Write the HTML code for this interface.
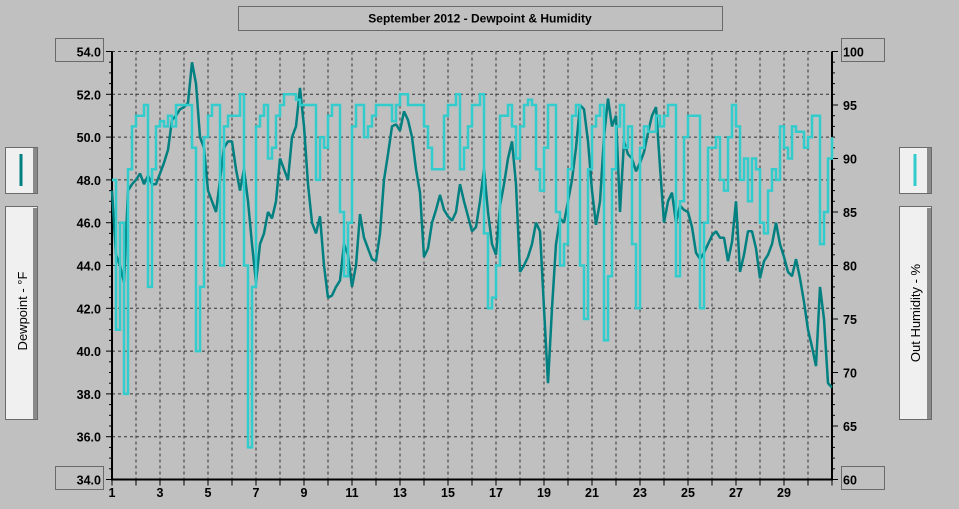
<!DOCTYPE html>
<html><head><meta charset="utf-8"><style>
body{margin:0;background:#c0c0c0;}
svg{display:block;font-family:"Liberation Sans",sans-serif;}
</style></head><body>
<svg id="chart" width="959" height="509" viewBox="0 0 959 509">
<rect x="0" y="0" width="959" height="509" fill="#c0c0c0"/>
<g>
<rect x="238.5" y="6.5" width="484" height="24" fill="none" stroke="#6a6a6a"/>
<text x="480" y="22.5" text-anchor="middle" font-size="12" font-weight="bold">September 2012 - Dewpoint &amp; Humidity</text>
</g>
<g id="grid"></g>
<g id="axes"></g>
<g id="series"></g>
<g><rect x="55.5" y="38.5" width="48" height="23" fill="none" stroke="#6a6a6a"/></g>
<g><rect x="55.5" y="466.5" width="48" height="23" fill="none" stroke="#6a6a6a"/></g>
<g><rect x="841.5" y="38.5" width="43" height="23" fill="none" stroke="#6a6a6a"/></g>
<g><rect x="841.5" y="466.5" width="43" height="23" fill="none" stroke="#6a6a6a"/></g>
<g>
<rect x="5.5" y="147.5" width="32" height="46" fill="#f0f0f0" stroke="#6a6a6a"/>
<rect x="33" y="148" width="4" height="45" fill="#8a8a8a"/>
<line x1="21" y1="154" x2="21" y2="186" stroke="#008080" stroke-width="3"/>
</g>
<g>
<rect x="5.5" y="206.5" width="32" height="213" fill="#f0f0f0" stroke="#6a6a6a"/>
<rect x="33" y="208" width="4" height="211" fill="#8a8a8a"/>
<text transform="translate(27,311) rotate(-90)" text-anchor="middle" font-size="13">Dewpoint - °F</text>
</g>
<g>
<rect x="899.5" y="147.5" width="32" height="46" fill="#f0f0f0" stroke="#6a6a6a"/>
<rect x="927" y="148" width="4" height="45" fill="#8a8a8a"/>
<line x1="915" y1="154" x2="915" y2="186" stroke="#33cccc" stroke-width="3"/>
</g>
<g>
<rect x="899.5" y="206.5" width="32" height="213" fill="#f0f0f0" stroke="#6a6a6a"/>
<rect x="927" y="208" width="4" height="211" fill="#8a8a8a"/>
<text transform="translate(920,313) rotate(-90)" text-anchor="middle" font-size="13">Out Humidity - %</text>
</g>
</svg>
<script>
const dewpoint = [47.5,44.5,44.0,43.2,47.5,47.8,48.0,48.3,47.8,48.2,47.8,47.8,48.3,48.8,49.4,50.8,51.0,51.3,51.4,51.6,53.5,52.5,50.0,49.5,47.5,47.0,46.5,48.0,49.5,49.8,49.8,48.5,47.5,48.5,47.0,45.0,43.2,45.0,45.5,46.5,46.2,47.0,49.0,48.5,48.0,50.0,50.5,52.3,50.5,47.8,46.0,45.5,46.3,44.0,42.5,42.6,43.0,43.3,45.0,44.5,43.0,44.0,46.4,45.3,44.8,44.3,44.2,45.5,48.0,49.2,50.5,50.6,50.3,51.2,50.8,50.0,48.5,47.4,44.4,44.8,46.0,46.6,47.3,46.6,46.3,46.1,46.5,47.8,47.0,46.3,45.6,45.8,47.0,48.5,46.5,45.0,44.5,46.8,47.8,49.0,49.8,47.8,43.7,44.0,44.4,45.0,46.0,45.6,42.0,38.5,42.0,45.0,46.2,46.0,47.0,48.0,49.5,51.5,51.3,49.8,47.5,45.9,47.0,50.0,51.8,50.5,51.0,46.5,49.8,49.2,49.0,48.4,48.8,49.3,50.2,51.0,51.4,48.6,46.0,47.0,47.4,46.0,46.8,46.6,46.5,45.8,44.6,44.3,44.6,45.0,45.4,45.6,45.3,45.3,44.2,45.1,47.0,43.7,44.5,45.6,45.6,44.8,43.4,44.2,44.5,45.0,46.0,45.0,44.4,43.7,43.5,44.3,43.4,42.3,41.0,40.2,39.3,43.0,41.5,38.5,38.3];
const humidity = [88,74,84,68,89,93,94,94,95,78,89,93,93.5,93,94,93,95,95,95,95,91,72,78,92,94,95,95,80,93,94,94,94,96,80,63,78,93,94,95,90,91,94,95,96,96,96,95.5,95,95,95,95,88,92,91,94,95,95,85,79,84,93,95,95,92,93,94,95,95,95,95,93.5,95,96,96,95,95,95,95,93,91,89,89,89,94,95,95,96,89,91,93,95,95,96,83,76,77,80,94,94,95,93,90,93,95,95.5,95,89,87,91,95,95,85,80,82,89,94,95,80,75,89,93,94,95,73,79,89,93,95,91,93,82,76,91,93,92.5,92.5,94,93,94,95,95,79,86,92,94,94,94,76,84,91,91,92,88,87,92,95,93,88,90,86,90,89,84,83,87,89,88,93,91,90,93,92.5,92.5,91,92,94,94,82,85,90,92];
const samplesPerDay = 6;
const dewTicks = ["54.0","52.0","50.0","48.0","46.0","44.0","42.0","40.0","38.0","36.0","34.0"];
const humTicks = ["100","95","90","85","80","75","70","65","60"];
const dayLabels = ["1","3","5","7","9","11","13","15","17","19","21","23","25","27","29"];

const NS="http://www.w3.org/2000/svg";
const X0=112,X1=832,Y0=51.5,Y1=479.5;
const dayMin=1,dayMax=31,dewMin=34,dewMax=54,humMin=60,humMax=100;
function xDay(d){return X0+(d-dayMin)/(dayMax-dayMin)*(X1-X0);}
function yDew(v){return Y1-(v-dewMin)/(dewMax-dewMin)*(Y1-Y0);}
function yHum(v){return Y1-(v-humMin)/(humMax-humMin)*(Y1-Y0);}
function mk(tag,attrs,parent){const e=document.createElementNS(NS,tag);for(const k in attrs)e.setAttribute(k,attrs[k]);parent.appendChild(e);return e;}
const grid=document.getElementById('grid'),axes=document.getElementById('axes'),series=document.getElementById('series');

for(let v=dewMin+2;v<=dewMax;v+=2){
  const l=mk('line',{x1:X0,x2:X1,y1:yDew(v),y2:yDew(v),stroke:'#333','stroke-width':1,'stroke-dasharray':'3,3'},grid);
  
  
}
for(let d=dayMin+1;d<dayMax;d++){
  const l=mk('line',{x1:xDay(d),x2:xDay(d),y1:Y0,y2:Y1,stroke:'#333','stroke-width':1,'stroke-dasharray':'3,3'},grid);
  
  
}
mk('line',{x1:X0,x2:X0,y1:Y0,y2:Y1+1,stroke:'#000','stroke-width':2},axes);
mk('line',{x1:X1,x2:X1,y1:Y0,y2:Y1+1,stroke:'#000','stroke-width':2},axes);
mk('line',{x1:X0,x2:X1,y1:Y1,y2:Y1,stroke:'#000','stroke-width':2},axes);
for(let v=dewMin;v<=dewMax+0.001;v+=0.5){
  const major=Math.abs(v/2-Math.round(v/2))<0.001;
  mk('line',{x1:X0-(major?6:3),x2:X0,y1:yDew(v),y2:yDew(v),stroke:'#000','stroke-width':1},axes);
}
dewTicks.forEach(function(t){
  const tx=mk('text',{x:101,y:yDew(parseFloat(t))+5,'text-anchor':'end','font-size':12.5,'font-weight':'bold'},axes);
  tx.textContent=t;
  
  
});
for(let v=humMin;v<=humMax;v+=1){
  const major=v%5===0;
  mk('line',{x1:X1,x2:X1+(major?6:3),y1:yHum(v),y2:yHum(v),stroke:'#000','stroke-width':1},axes);
}
humTicks.forEach(function(t){
  const tx=mk('text',{x:843,y:yHum(parseFloat(t))+5,'text-anchor':'start','font-size':12.5,'font-weight':'bold'},axes);
  tx.textContent=t;
  
  
});
for(let d=dayMin;d<=dayMax;d++){
  mk('line',{x1:xDay(d),x2:xDay(d),y1:Y1,y2:Y1+6,stroke:'#000','stroke-width':1},axes);
}
dayLabels.forEach(function(t){
  const tx=mk('text',{x:xDay(parseFloat(t)),y:497,'text-anchor':'middle','font-size':12.5,'font-weight':'bold'},axes);
  tx.textContent=t;
  
  
});
function stepPts(arr,yf){
  let p=[];
  arr.forEach(function(v,i){
    const x=xDay(dayMin+i/samplesPerDay);
    if(i>0)p.push(x.toFixed(1)+','+yf(arr[i-1]).toFixed(1));
    p.push(x.toFixed(1)+','+yf(v).toFixed(1));
  });
  return p.join(' ');
}
function linePts(arr,yf){
  return arr.map(function(v,i){return xDay(dayMin+i/samplesPerDay).toFixed(1)+','+yf(v).toFixed(1);}).join(' ');
}
const dewLine=mk('polyline',{points:linePts(dewpoint,yDew),fill:'none',stroke:'#008080','stroke-width':2.5,'stroke-linejoin':'bevel'},series);


const humLine=mk('polyline',{points:stepPts(humidity,yHum),fill:'none',stroke:'#33cccc','stroke-width':2.5,'stroke-linejoin':'miter'},series);


</script>
</body></html>
